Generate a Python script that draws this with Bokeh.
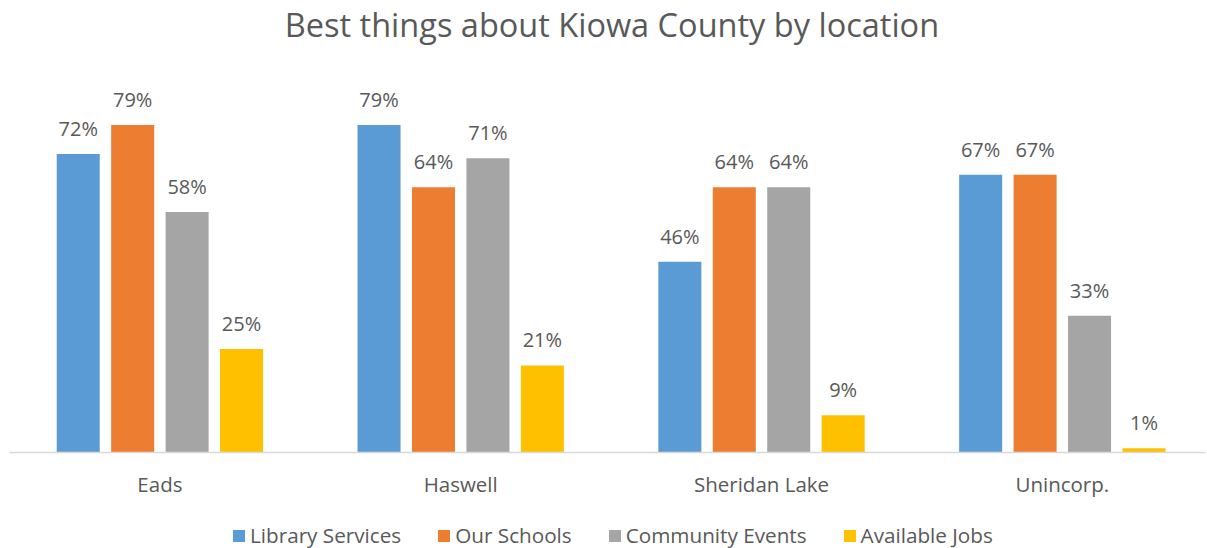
from bokeh.plotting import figure
from bokeh.models import (ColumnDataSource, Range1d, FixedTicker, Legend, LegendItem,
                          LabelSet, Label)
from bokeh.layouts import column
from bokeh.core.properties import value
from bokeh.transform import dodge
from bokeh.embed import file_html
from bokeh.resources import INLINE

title = "Best things about Kiowa County by location"
locations = ["Eads", "Haswell", "Sheridan Lake", "Unincorp."]
series = ["Library Services", "Our Schools", "Community Events", "Available Jobs"]
library_services = [72, 79, 46, 67]
our_schools = [79, 64, 64, 67]
community_events = [58, 71, 64, 33]
available_jobs = [25, 21, 9, 1]
colors = ["#5B9BD5", "#ED7D31", "#A5A5A5", "#FFC000"]

values = [library_services, our_schools, community_events, available_jobs]
offsets = [-0.2715, -0.0905, 0.0905, 0.2715]
FONT = "Open Sans"
TEXT = "#595959"
W = 1207


def strip(h):
    f = figure(width=W, height=h, x_range=Range1d(0, W), y_range=Range1d(0, h),
               output_backend="svg", toolbar_location=None, x_axis_location=None,
               y_axis_location=None, min_border=0, outline_line_color=None)
    f.grid.visible = False
    return f


# title strip
tf = strip(79)
tf.add_layout(Label(x=608, y=55, text=title, text_align="center", text_baseline="middle",
                    text_font=FONT, text_font_size="32.5px", text_color=TEXT))

# main chart
p = figure(width=W, height=421, x_range=Range1d(-0.5, 3.476), y_range=Range1d(0, 90),
           output_backend="svg", toolbar_location=None, y_axis_location=None,
           min_border_left=9, min_border_right=2, min_border_top=0, min_border_bottom=47,
           outline_line_color=None)
p.grid.visible = False

xs = list(range(len(locations)))
for vals, off, col in zip(values, offsets, colors):
    src = ColumnDataSource(dict(x=xs, top=vals, lab=[f"{v}%" for v in vals]))
    p.vbar(x=dodge("x", off), top="top", width=0.143, source=src,
           fill_color=col, line_color=None)
    labels = LabelSet(x=dodge("x", off), y="top", text="lab", source=src,
                      text_align="center", text_baseline="alphabetic", y_offset=18,
                      text_font=value(FONT), text_font_size=value("20px"),
                      text_color=TEXT)
    p.add_layout(labels)

ax = p.xaxis[0]
ax.ticker = FixedTicker(ticks=xs)
ax.major_label_overrides = {i: loc for i, loc in enumerate(locations)}
ax.major_tick_line_color = None
ax.minor_tick_line_color = None
ax.axis_line_color = "#D9D9D9"
ax.axis_line_width = 1.5
ax.major_label_text_font = FONT
ax.major_label_text_font_size = "20.5px"
ax.major_label_text_color = TEXT
ax.major_label_standoff = 11

# legend strip below the chart
lg = strip(48)
items = []
for name, col in zip(series, colors):
    r = lg.vbar(x=[-100], top=[-100], width=1, fill_color=col, line_color=None)
    items.append(LegendItem(label=name, renderers=[r]))
legend = Legend(items=items, orientation="horizontal", location=(222, -1),
                glyph_width=15, glyph_height=15, label_standoff=4, spacing=35,
                label_text_font=FONT, label_text_font_size="20.7px", label_text_color=TEXT,
                border_line_color=None, background_fill_alpha=0, padding=0, margin=0)
lg.add_layout(legend, "center")

layout = column(tf, p, lg, spacing=0)
open("out.html", "w").write(file_html(layout, INLINE))
